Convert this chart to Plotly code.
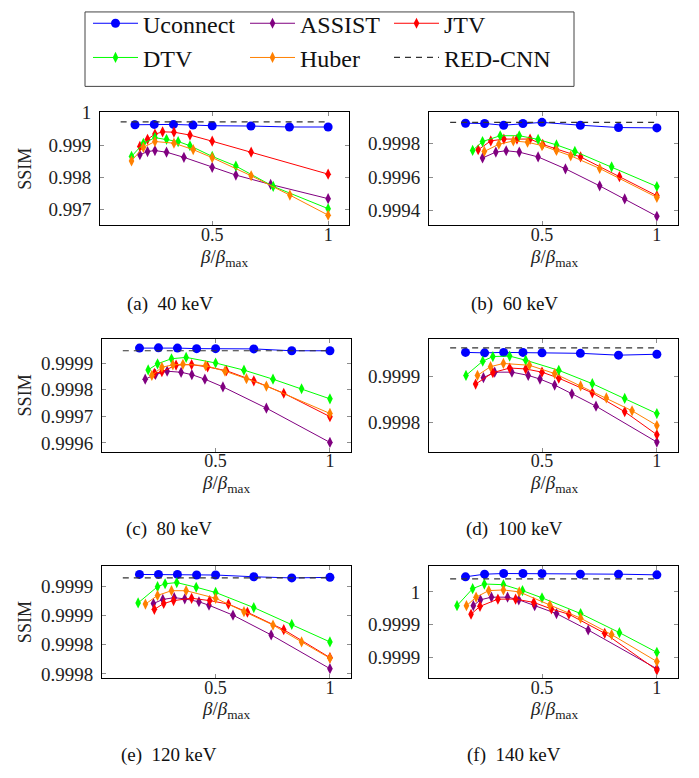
import plotly.graph_objects as go

W, H = 699, 778

# ---------------- data ----------------
energies = ["40 keV", "60 keV", "80 keV", "100 keV", "120 keV", "140 keV"]
panel_letters = ["a", "b", "c", "d", "e", "f"]
x_ticks = [0.5, 1.0]
x_tick_text = ["0.5", "1"]

ucon_x = [0.167, 0.25, 0.333, 0.417, 0.5, 0.667, 0.833, 1.0]

# 40 keV
ucon_y_40 = [0.99963, 0.99964, 0.99964, 0.99962, 0.99960, 0.99959, 0.99956, 0.99956]
assist_x_40 = [0.188, 0.221, 0.253, 0.303, 0.378, 0.5, 0.602, 0.752, 1.0]
assist_y_40 = [0.99870, 0.99880, 0.99883, 0.99878, 0.99862, 0.99831, 0.99807, 0.99778, 0.99734]
jtv_x_40 = [0.188, 0.221, 0.253, 0.286, 0.335, 0.404, 0.5, 0.668, 1.0]
jtv_y_40 = [0.99896, 0.99918, 0.99934, 0.99941, 0.99940, 0.99931, 0.99912, 0.99878, 0.99810]
dtv_x_40 = [0.152, 0.203, 0.253, 0.303, 0.353, 0.404, 0.5, 0.602, 0.763, 1.0]
dtv_y_40 = [0.99865, 0.99905, 0.99923, 0.99918, 0.99911, 0.99898, 0.99865, 0.99835, 0.99772, 0.99703]
huber_x_40 = [0.152, 0.203, 0.253, 0.335, 0.418, 0.5, 0.668, 0.835, 1.0]
huber_y_40 = [0.99851, 0.99893, 0.99911, 0.99906, 0.99886, 0.99861, 0.99805, 0.99745, 0.99683]
redcnn_x_40 = [0.105, 1.0]
redcnn_y_40 = [0.99972, 0.99972]

# 60 keV
ucon_y_60 = [0.999922, 0.999920, 0.999910, 0.999920, 0.999927, 0.999910, 0.999896, 0.999894]
assist_x_60 = [0.241, 0.299, 0.344, 0.401, 0.483, 0.602, 0.751, 0.860, 1.0]
assist_y_60 = [0.999714, 0.999749, 0.999757, 0.999749, 0.999720, 0.999649, 0.999547, 0.999469, 0.999365]
jtv_x_60 = [0.222, 0.277, 0.334, 0.391, 0.448, 0.503, 0.560, 0.668, 0.837, 1.0]
jtv_y_60 = [0.999763, 0.999816, 0.999827, 0.999827, 0.999827, 0.999795, 0.999770, 0.999720, 0.999602, 0.999488]
dtv_x_60 = [0.198, 0.241, 0.318, 0.401, 0.483, 0.563, 0.643, 0.803, 1.0]
dtv_y_60 = [0.999759, 0.999812, 0.999847, 0.999847, 0.999825, 0.999792, 0.999753, 0.999661, 0.999543]
huber_x_60 = [0.249, 0.312, 0.375, 0.437, 0.5, 0.563, 0.625, 0.751, 1.0]
huber_y_60 = [0.999753, 0.999796, 0.999816, 0.999808, 0.999788, 0.999759, 0.999727, 0.999651, 0.999478]
redcnn_x_60 = [0.1, 1.0]
redcnn_y_60 = [0.999927, 0.999927]

# 80 keV
ucon_y_80 = [0.999957, 0.999958, 0.999957, 0.999955, 0.999955, 0.999954, 0.999947, 0.999947]
assist_x_80 = [0.192, 0.237, 0.288, 0.349, 0.396, 0.453, 0.532, 0.722, 1.0]
assist_y_80 = [0.999840, 0.999858, 0.999870, 0.999866, 0.999857, 0.999840, 0.999811, 0.999731, 0.999602]
jtv_x_80 = [0.232, 0.265, 0.327, 0.395, 0.465, 0.547, 0.667, 0.798, 1.0]
jtv_y_80 = [0.999862, 0.999868, 0.999893, 0.999895, 0.999886, 0.999872, 0.999834, 0.999787, 0.999699]
dtv_x_80 = [0.205, 0.246, 0.307, 0.371, 0.5, 0.624, 0.751, 0.876, 1.0]
dtv_y_80 = [0.999875, 0.999898, 0.999917, 0.999922, 0.999901, 0.999874, 0.999840, 0.999804, 0.999766]
huber_x_80 = [0.221, 0.265, 0.313, 0.357, 0.456, 0.541, 0.635, 0.722, 1.0]
huber_y_80 = [0.999854, 0.999885, 0.999894, 0.999896, 0.999891, 0.999870, 0.999842, 0.999814, 0.999711]
redcnn_x_80 = [0.094, 1.0]
redcnn_y_80 = [0.999947, 0.999947]

# 100 keV
ucon_y_100 = [0.999952, 0.999951, 0.999952, 0.999952, 0.999951, 0.999950, 0.999946, 0.999948]
assist_x_100 = [0.245, 0.294, 0.369, 0.440, 0.491, 0.555, 0.630, 0.735, 1.0]
assist_y_100 = [0.999897, 0.999909, 0.999909, 0.999902, 0.999894, 0.999881, 0.999862, 0.999835, 0.999757]
jtv_x_100 = [0.211, 0.286, 0.359, 0.429, 0.5, 0.573, 0.719, 0.860, 1.0]
jtv_y_100 = [0.999883, 0.999908, 0.999918, 0.999916, 0.999909, 0.999896, 0.999864, 0.999823, 0.999773]
dtv_x_100 = [0.169, 0.242, 0.286, 0.359, 0.429, 0.573, 0.719, 0.860, 1.0]
dtv_y_100 = [0.999902, 0.999933, 0.999943, 0.999944, 0.999935, 0.999913, 0.999884, 0.999852, 0.999819]
huber_x_100 = [0.219, 0.276, 0.332, 0.445, 0.555, 0.668, 0.780, 0.892, 1.0]
huber_y_100 = [0.999902, 0.999921, 0.999928, 0.999924, 0.999906, 0.999879, 0.999853, 0.999825, 0.999793]
redcnn_x_100 = [0.1, 1.0]
redcnn_y_100 = [0.999962, 0.999962]

# 120 keV
ucon_y_120 = [0.999921, 0.999921, 0.999921, 0.999920, 0.999920, 0.999917, 0.999915, 0.999916]
assist_x_120 = [0.228, 0.269, 0.319, 0.365, 0.427, 0.471, 0.576, 0.743, 1.0]
assist_y_120 = [0.999871, 0.999878, 0.999881, 0.999879, 0.999874, 0.999868, 0.999851, 0.999817, 0.999759]
jtv_x_120 = [0.232, 0.273, 0.316, 0.395, 0.474, 0.556, 0.639, 0.798, 1.0]
jtv_y_120 = [0.999861, 0.999871, 0.999876, 0.999880, 0.999876, 0.999870, 0.999856, 0.999826, 0.999778]
dtv_x_120 = [0.161, 0.246, 0.279, 0.330, 0.415, 0.5, 0.667, 0.833, 1.0]
dtv_y_120 = [0.999872, 0.999900, 0.999905, 0.999907, 0.999899, 0.999890, 0.999864, 0.999835, 0.999805]
huber_x_120 = [0.193, 0.246, 0.307, 0.371, 0.5, 0.624, 0.751, 0.876, 1.0]
huber_y_120 = [0.999870, 0.999885, 0.999893, 0.999893, 0.999880, 0.999857, 0.999834, 0.999805, 0.999777]
redcnn_x_120 = [0.094, 1.0]
redcnn_y_120 = [0.999915, 0.999915]

# 140 keV
ucon_y_140 = [1.000023, 1.000027, 1.000028, 1.000028, 1.000028, 1.000027, 1.000027, 1.000026]
assist_x_140 = [0.201, 0.232, 0.280, 0.350, 0.399, 0.468, 0.563, 0.701, 1.0]
assist_y_140 = [0.999979, 0.999988, 0.999992, 0.999992, 0.999988, 0.999979, 0.999967, 0.999942, 0.999883]
jtv_x_140 = [0.191, 0.230, 0.308, 0.385, 0.464, 0.541, 0.617, 0.773, 1.0]
jtv_y_140 = [0.999966, 0.999978, 0.999989, 0.999989, 0.999984, 0.999974, 0.999966, 0.999937, 0.999881]
dtv_x_140 = [0.130, 0.198, 0.249, 0.332, 0.415, 0.5, 0.668, 0.837, 1.0]
dtv_y_140 = [0.999979, 1.000005, 1.000012, 1.000011, 1.000002, 0.999991, 0.999967, 0.999938, 0.999908]
huber_x_140 = [0.171, 0.213, 0.268, 0.332, 0.401, 0.534, 0.668, 0.803, 1.0]
huber_y_140 = [0.999979, 0.999992, 1.000002, 1.000003, 1.000000, 0.999980, 0.999960, 0.999935, 0.999894]
redcnn_x_140 = [0.1, 1.0]
redcnn_y_140 = [1.00002, 1.00002]

# y tick positions / labels per panel
ytick_vals_40 = [0.997, 0.998, 0.999, 1.0]
ytick_text_40 = ["0.997", "0.998", "0.999", "1"]
ytick_vals_60 = [0.9994, 0.9996, 0.9998]
ytick_text_60 = ["0.9994", "0.9996", "0.9998"]
ytick_vals_80 = [0.9996, 0.9997, 0.9998, 0.9999]
ytick_text_80 = ["0.9996", "0.9997", "0.9998", "0.9999"]
ytick_vals_100 = [0.9998, 0.9999]
ytick_text_100 = ["0.9998", "0.9999"]
ytick_vals_120 = [0.99975, 0.9998, 0.99985, 0.9999]
ytick_text_120 = ["0.9998", "0.9998", "0.9999", "0.9999"]
ytick_vals_140 = [0.9999, 0.99995, 1.0]
ytick_text_140 = ["0.9999", "0.9999", "1"]

methods = ["Uconnect", "ASSIST", "JTV", "DTV", "Huber", "RED-CNN"]

# ---------------- style ----------------
colors = {"Uconnect": "#0000FF", "ASSIST": "#800080", "JTV": "#FF0000",
          "DTV": "#00FF00", "Huber": "#FF8000", "RED-CNN": "#333333"}
legend_of = {"Uconnect": "legend", "DTV": "legend", "ASSIST": "legend2",
             "Huber": "legend2", "JTV": "legend3", "RED-CNN": "legend3"}
SERIF = "Liberation Serif"

panels = [
    (ucon_y_40, assist_x_40, assist_y_40, jtv_x_40, jtv_y_40, dtv_x_40, dtv_y_40,
     huber_x_40, huber_y_40, redcnn_x_40, redcnn_y_40, ytick_vals_40, ytick_text_40),
    (ucon_y_60, assist_x_60, assist_y_60, jtv_x_60, jtv_y_60, dtv_x_60, dtv_y_60,
     huber_x_60, huber_y_60, redcnn_x_60, redcnn_y_60, ytick_vals_60, ytick_text_60),
    (ucon_y_80, assist_x_80, assist_y_80, jtv_x_80, jtv_y_80, dtv_x_80, dtv_y_80,
     huber_x_80, huber_y_80, redcnn_x_80, redcnn_y_80, ytick_vals_80, ytick_text_80),
    (ucon_y_100, assist_x_100, assist_y_100, jtv_x_100, jtv_y_100, dtv_x_100, dtv_y_100,
     huber_x_100, huber_y_100, redcnn_x_100, redcnn_y_100, ytick_vals_100, ytick_text_100),
    (ucon_y_120, assist_x_120, assist_y_120, jtv_x_120, jtv_y_120, dtv_x_120, dtv_y_120,
     huber_x_120, huber_y_120, redcnn_x_120, redcnn_y_120, ytick_vals_120, ytick_text_120),
    (ucon_y_140, assist_x_140, assist_y_140, jtv_x_140, jtv_y_140, dtv_x_140, dtv_y_140,
     huber_x_140, huber_y_140, redcnn_x_140, redcnn_y_140, ytick_vals_140, ytick_text_140),
]

# pixel boxes of the axes: (x0, x1, y0_top, y1_bottom)
boxes = [(100, 349, 105, 221), (429, 678, 105, 221),
         (102, 350.5, 337, 452), (429, 678, 337, 452),
         (102, 350.5, 569, 683), (429, 678, 569, 683)]
x_ranges = [[0.016, 1.09], [0.008, 1.092], [0.003, 1.09],
            [0.008, 1.092], [0.003, 1.09], [0.008, 1.092]]
y_ranges = [[0.99651, 1.00003], [0.99931, 0.99999], [0.999567, 0.999991],
            [0.999736, 0.999981], [0.999743, 0.999935], [0.999869, 1.000039]]
caption_pos = [(170, 301), (514, 301), (169, 531), (514, 531), (169, 762), (514, 762)]


def px(x):
    return x / W


def py(y):
    return 1 - y / H


fig = go.Figure()
layout = {}
annotations = []

for i, p in enumerate(panels):
    (uy, ax_, ay, jx, jy, dx, dy, hx, hy, rx, ry, tv, tt) = p
    n = "" if i == 0 else str(i + 1)
    xa, ya = "x" + n, "y" + n
    first = i == 0
    series = [
        ("Uconnect", ucon_x, uy),
        ("ASSIST", ax_, ay),
        ("JTV", jx, jy),
        ("DTV", dx, dy),
        ("Huber", hx, hy),
        ("RED-CNN", rx, ry),
    ]
    for name, xs, ys in series:
        if name == "Uconnect":
            mk = dict(symbol="circle", size=9, color=colors[name])
            ln = dict(color=colors[name], width=1)
            mode = "lines+markers"
        elif name == "RED-CNN":
            mk = None
            ln = dict(color=colors[name], width=1.2, dash="6px,5px")
            mode = "lines"
        else:
            mk = dict(symbol="diamond-tall", size=8, color=colors[name])
            ln = dict(color=colors[name], width=1)
            mode = "lines+markers"
        tr = go.Scatter(x=xs, y=ys, mode=mode, name=name, line=ln,
                        xaxis=xa, yaxis=ya, showlegend=first,
                        legend=legend_of[name])
        if mk:
            tr.marker = mk
        fig.add_trace(tr)

    x0, x1, yt, yb = boxes[i]
    axis_common = dict(showline=True, linecolor="black", linewidth=1, mirror="ticks",
                       ticks="inside", ticklen=4, tickcolor="#8c8c8c", showgrid=False,
                       zeroline=False)
    layout["xaxis" + n] = dict(domain=[px(x0), px(x1)], range=x_ranges[i], anchor=ya,
                               tickvals=x_ticks, ticktext=x_tick_text,
                               ticklabelstandoff=-7,
                               tickfont=dict(family=SERIF, size=18, color="#222"),
                               **axis_common)
    layout["yaxis" + n] = dict(domain=[py(yb), py(yt)], range=y_ranges[i], anchor=xa,
                               tickvals=tv, ticktext=tt, ticklabelstandoff=4,
                               tickfont=dict(family=SERIF, size=19, color="#222"),
                               **axis_common)

    # x-axis title
    annotations.append(dict(text="<i>β</i>/<i>β</i><sub>max</sub>", x=px((x0 + x1) / 2),
                            y=py(yb + 33), xref="paper", yref="paper", showarrow=False,
                            xanchor="center", yanchor="middle",
                            font=dict(family=SERIF, size=19, color="#222")))
    if i % 2 == 0:
        annotations.append(dict(text="SSIM", x=px(25), y=py((yt + yb) / 2), xref="paper",
                                yref="paper", showarrow=False, textangle=-90,
                                xanchor="center", yanchor="middle",
                                font=dict(family=SERIF, size=18, color="#222")))
    cx, cy = caption_pos[i]
    annotations.append(dict(text="(" + panel_letters[i] + ")  " + energies[i],
                            x=px(cx), y=py(cy), xref="paper", yref="paper",
                            showarrow=False, xanchor="center", yanchor="middle",
                            font=dict(family=SERIF, size=19, color="#111")))

leg_common = dict(font=dict(family=SERIF, size=24, color="#111"), bgcolor="rgba(0,0,0,0)",
                  borderwidth=0, xanchor="left", yanchor="top", itemwidth=45,
                  traceorder="normal", orientation="v", tracegroupgap=0,
                  itemclick=False)
layout["legend"] = dict(x=px(88), y=py(-8), **leg_common)
layout["legend2"] = dict(x=px(245), y=py(-8), **leg_common)
layout["legend3"] = dict(x=px(389), y=py(-8), **leg_common)

fig.update_layout(
    width=W, height=H, margin=dict(l=0, r=0, t=0, b=0),
    paper_bgcolor="white", plot_bgcolor="white",
    annotations=annotations,
    shapes=[dict(type="rect", xref="paper", yref="paper", x0=px(85), x1=px(574),
                 y0=py(79), y1=py(3), line=dict(color="#444", width=1))],
    **layout,
)

fig.write_html("out.html")
